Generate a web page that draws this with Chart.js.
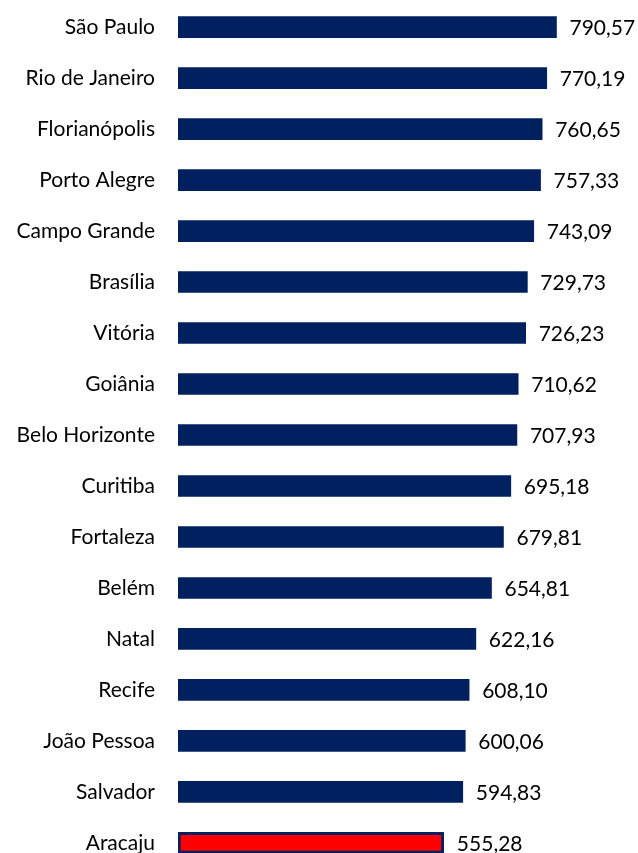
<!DOCTYPE html>
<html>
<head>
<meta charset="utf-8">
<script src="https://cdn.jsdelivr.net/npm/chart.js@4"></script>
<style>
  html, body { margin: 0; padding: 0; background: #fff; overflow: hidden; }
  #wrap { width: 638px; height: 922px; margin-top: -26px; }
</style>
</head>
<body>
<div id="wrap"><canvas id="chart"></canvas></div>
<script>
const cities = ['São Paulo', 'Rio de Janeiro', 'Florianópolis', 'Porto Alegre', 'Campo Grande', 'Brasília',
    'Vitória', 'Goiânia', 'Belo Horizonte', 'Curitiba', 'Fortaleza', 'Belém', 'Natal', 'Recife',
    'João Pessoa', 'Salvador', 'Aracaju'];
const values = [790.57, 770.19, 760.65, 757.33, 743.09, 729.73, 726.23, 710.62, 707.93, 695.18,
    679.81, 654.81, 622.16, 608.10, 600.06, 594.83, 555.28];
const highlight = 'Aracaju';

const navy = '#002060';
const fontFamily = 'Lato, "Open Sans", sans-serif';

// rótulos de valor à direita das barras
const valueLabels = {
    id: 'valueLabels',
    afterDatasetsDraw(chart) {
        const ctx = chart.ctx;
        const meta = chart.getDatasetMeta(0);
        ctx.save();
        ctx.font = '21px ' + fontFamily;
        ctx.fillStyle = '#000';
        ctx.textAlign = 'left';
        ctx.textBaseline = 'middle';
        meta.data.forEach((bar, i) => {
            const txt = values[i].toFixed(2).replace('.', ',');
            ctx.fillText(txt, bar.x + 13, bar.y + 1);
        });
        ctx.restore();
    }
};

new Chart(document.getElementById('chart'), {
    type: 'bar',
    data: {
        labels: cities,
        datasets: [{
            data: values,
            backgroundColor: cities.map(c => c === highlight ? '#FF0000' : navy),
            borderColor: navy,
            borderWidth: cities.map(c => c === highlight ? 3 : 0),
            borderSkipped: false,
            barThickness: 21
        }]
    },
    options: {
        indexAxis: 'y',
        responsive: true,
        maintainAspectRatio: false,
        animation: false,
        layout: { padding: { left: 0, right: 77, top: 0, bottom: 0 } },
        plugins: {
            legend: { display: false },
            tooltip: { enabled: false }
        },
        scales: {
            x: {
                display: false,
                min: 0,
                max: 800
            },
            y: {
                grid: { display: false },
                border: { display: false },
                ticks: {
                    color: '#000',
                    padding: 15,
                    font: { family: fontFamily, size: 21 }
                },
                afterFit(scale) { scale.width = 178; }
            }
        }
    },
    plugins: [valueLabels]
});
</script>
</body>
</html>
